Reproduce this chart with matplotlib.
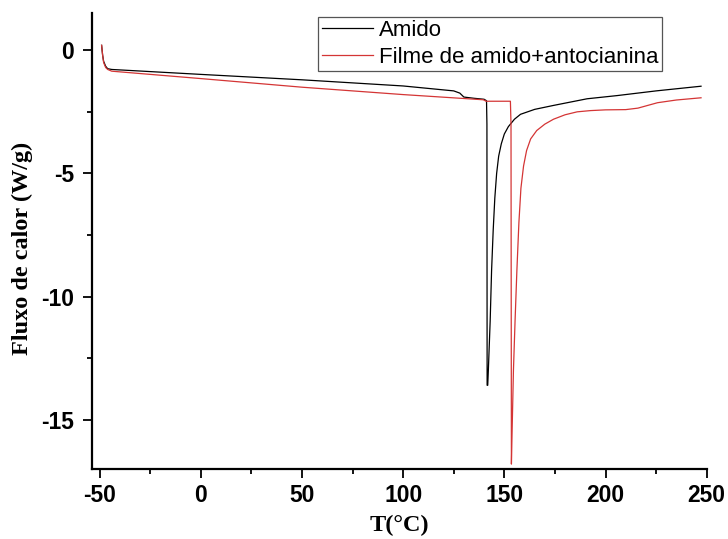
import matplotlib
matplotlib.use("Agg")
import matplotlib.pyplot as plt
from matplotlib.ticker import MultipleLocator

plt.rcParams["axes.unicode_minus"] = False

# Amido (black)
t_amido = [-49, -48.5, -48, -47, -46, -44, 0, 50, 100, 125, 128, 130, 135, 140,
           141.2, 141.4, 141.5, 141.8, 142.1, 143.0, 143.7, 144.5, 145.3, 146.2,
           147.2, 148.5, 150, 152, 155, 158, 165, 174.3, 190.9, 205.8, 225, 247.2]
v_amido = [0.2, -0.2, -0.45, -0.65, -0.75, -0.78, -0.98, -1.2, -1.45, -1.65, -1.74,
           -1.9, -1.95, -1.99, -2.05, -3.0, -13.6, -13.6, -13.0, -11.0, -8.95, -7.3,
           -6.0, -5.0, -4.3, -3.8, -3.4, -3.1, -2.8, -2.6, -2.4, -2.24, -1.97, -1.84,
           -1.65, -1.46]

# Filme de amido+antocianina (red)
t_filme = [-49, -48.5, -48, -47, -46, -44, 0, 50, 100, 139.6, 141, 153, 153.3,
           153.5, 153.7, 154.5, 155.3, 156.2, 157.2, 158.2, 159.5, 161, 163, 166,
           170, 174.3, 180, 186, 192.6, 200, 210, 216, 225.7, 235, 247.2]
v_filme = [0.2, -0.2, -0.5, -0.7, -0.78, -0.85, -1.15, -1.5, -1.8, -2.01, -2.07,
           -2.07, -3.0, -16.8, -16.0, -13.0, -11.0, -8.95, -7.0, -5.6, -4.7, -4.07,
           -3.6, -3.26, -3.0, -2.8, -2.62, -2.5, -2.45, -2.42, -2.41, -2.35, -2.13,
           -2.02, -1.93]

labels = ["Amido", "Filme de amido+antocianina"]

fig = plt.figure(figsize=(7.28, 5.39), dpi=100)
W, H = 728, 539
x0, x1, ytop, ybot = 92.3, 706.7, 13.3, 469
ax = fig.add_axes([x0 / W, 1 - ybot / H, (x1 - x0) / W, (ybot - ytop) / H])

ax.plot(t_amido, v_amido, color="#000000", lw=0.9, label=labels[0])
ax.plot(t_filme, v_filme, color="#d43535", lw=0.9, label=labels[1])

ax.set_xlim(-53.6, 250)
ax.set_ylim(-17.0, 1.5)
ax.spines["top"].set_visible(False)
ax.spines["right"].set_visible(False)
for s in ("left", "bottom"):
    ax.spines[s].set_linewidth(1.6)

ax.xaxis.set_major_locator(MultipleLocator(50))
ax.xaxis.set_minor_locator(MultipleLocator(25))
ax.yaxis.set_major_locator(MultipleLocator(5))
ax.yaxis.set_minor_locator(MultipleLocator(2.5))
ax.tick_params(which="major", direction="out", length=6.5, width=1.3)
ax.tick_params(which="minor", direction="out", length=3.8, width=1.3)
ax.tick_params(axis="x", which="major", pad=4)
ax.tick_params(axis="y", which="major", pad=6.5)
for lab in ax.get_xticklabels() + ax.get_yticklabels():
    lab.set_fontfamily("Liberation Sans")
    lab.set_fontweight("bold")
    lab.set_fontsize(16.5)

ax.set_xlabel("T(°C)", fontfamily="Liberation Serif", fontweight="bold", fontsize=17.5,
              labelpad=6)
ax.set_ylabel("Fluxo de calor (W/g)", fontfamily="Liberation Serif", fontweight="bold",
              fontsize=17.5)
ax.yaxis.set_label_coords(-0.096, 0.485)

leg = ax.legend(loc="upper left", bbox_to_anchor=(318.3 / W, 1 - 16.7 / H),
                bbox_transform=fig.transFigure, borderaxespad=0, borderpad=0.15,
                handlelength=2.3, handletextpad=0.3, labelspacing=0.25,
                fancybox=False, framealpha=1,
                prop={"family": "Liberation Sans", "size": 16})
leg.get_frame().set_edgecolor("#555555")
leg.get_frame().set_linewidth(0.9)

fig.savefig("out.png", dpi=100)
